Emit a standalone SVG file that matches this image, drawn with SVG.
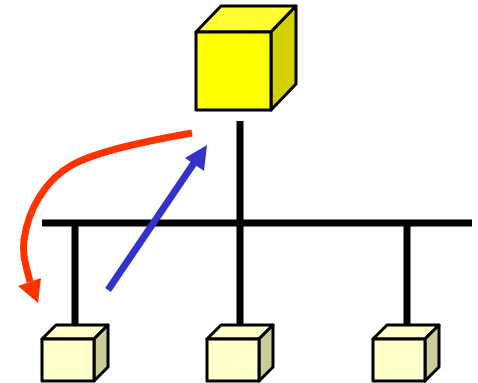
<svg xmlns="http://www.w3.org/2000/svg" width="478" height="383" viewBox="0 0 478 383">
<style>
.ln{stroke:#000;stroke-width:7;fill:none}
.cb{stroke:#000;stroke-width:3;stroke-linejoin:round}
.bf{fill:#FFFF00}.bt{fill:#FFFF33}.bs{fill:#D2D200}
.sf{fill:#FFFFCC}.st{fill:#FFFFCC}.ss{fill:#CCCC99}
</style>
<rect width="478" height="383" fill="#fff"/>
<g id="connectors">
<line class="ln" x1="240" y1="121" x2="240" y2="328"/>
<line class="ln" x1="42" y1="223" x2="472" y2="223"/>
<line class="ln" x1="75" y1="223" x2="75" y2="328"/>
<line class="ln" x1="407" y1="223" x2="407" y2="328"/>
<path d="M192,133 C140,142 95,152 72,165 C45,180 28,210 24,240 C22,255 26,265 30,282" stroke="#FF3300" stroke-width="7" fill="none"/>
<polygon points="18,286 41,278 38,303" fill="#FF3300"/>
<line x1="108" y1="290" x2="194" y2="163" stroke="#3333CC" stroke-width="7"/>
<polygon points="185,158 204,171 207,145" fill="#3333CC"/>
</g>
<g id="server">
<polygon class="cb bt" points="196,32 221,6 296,6 271,32"/>
<polygon class="cb bs" points="271,32 296,6 296,84 271,110"/>
<rect class="cb bf" x="196" y="32" width="75" height="78"/>
</g>
<g id="client1">
<polygon class="cb st" points="42,339 56,325 108,325 94,339"/>
<polygon class="cb ss" points="94,339 108,325 108,367 94,381"/>
<rect class="cb sf" x="42" y="339" width="52" height="42"/>
</g>
<g id="client2">
<polygon class="cb st" points="207,339 221,325 273,325 259,339"/>
<polygon class="cb ss" points="259,339 273,325 273,367 259,381"/>
<rect class="cb sf" x="207" y="339" width="52" height="42"/>
</g>
<g id="client3">
<polygon class="cb st" points="373,339 387,325 439,325 425,339"/>
<polygon class="cb ss" points="425,339 439,325 439,367 425,381"/>
<rect class="cb sf" x="373" y="339" width="52" height="42"/>
</g>
</svg>
